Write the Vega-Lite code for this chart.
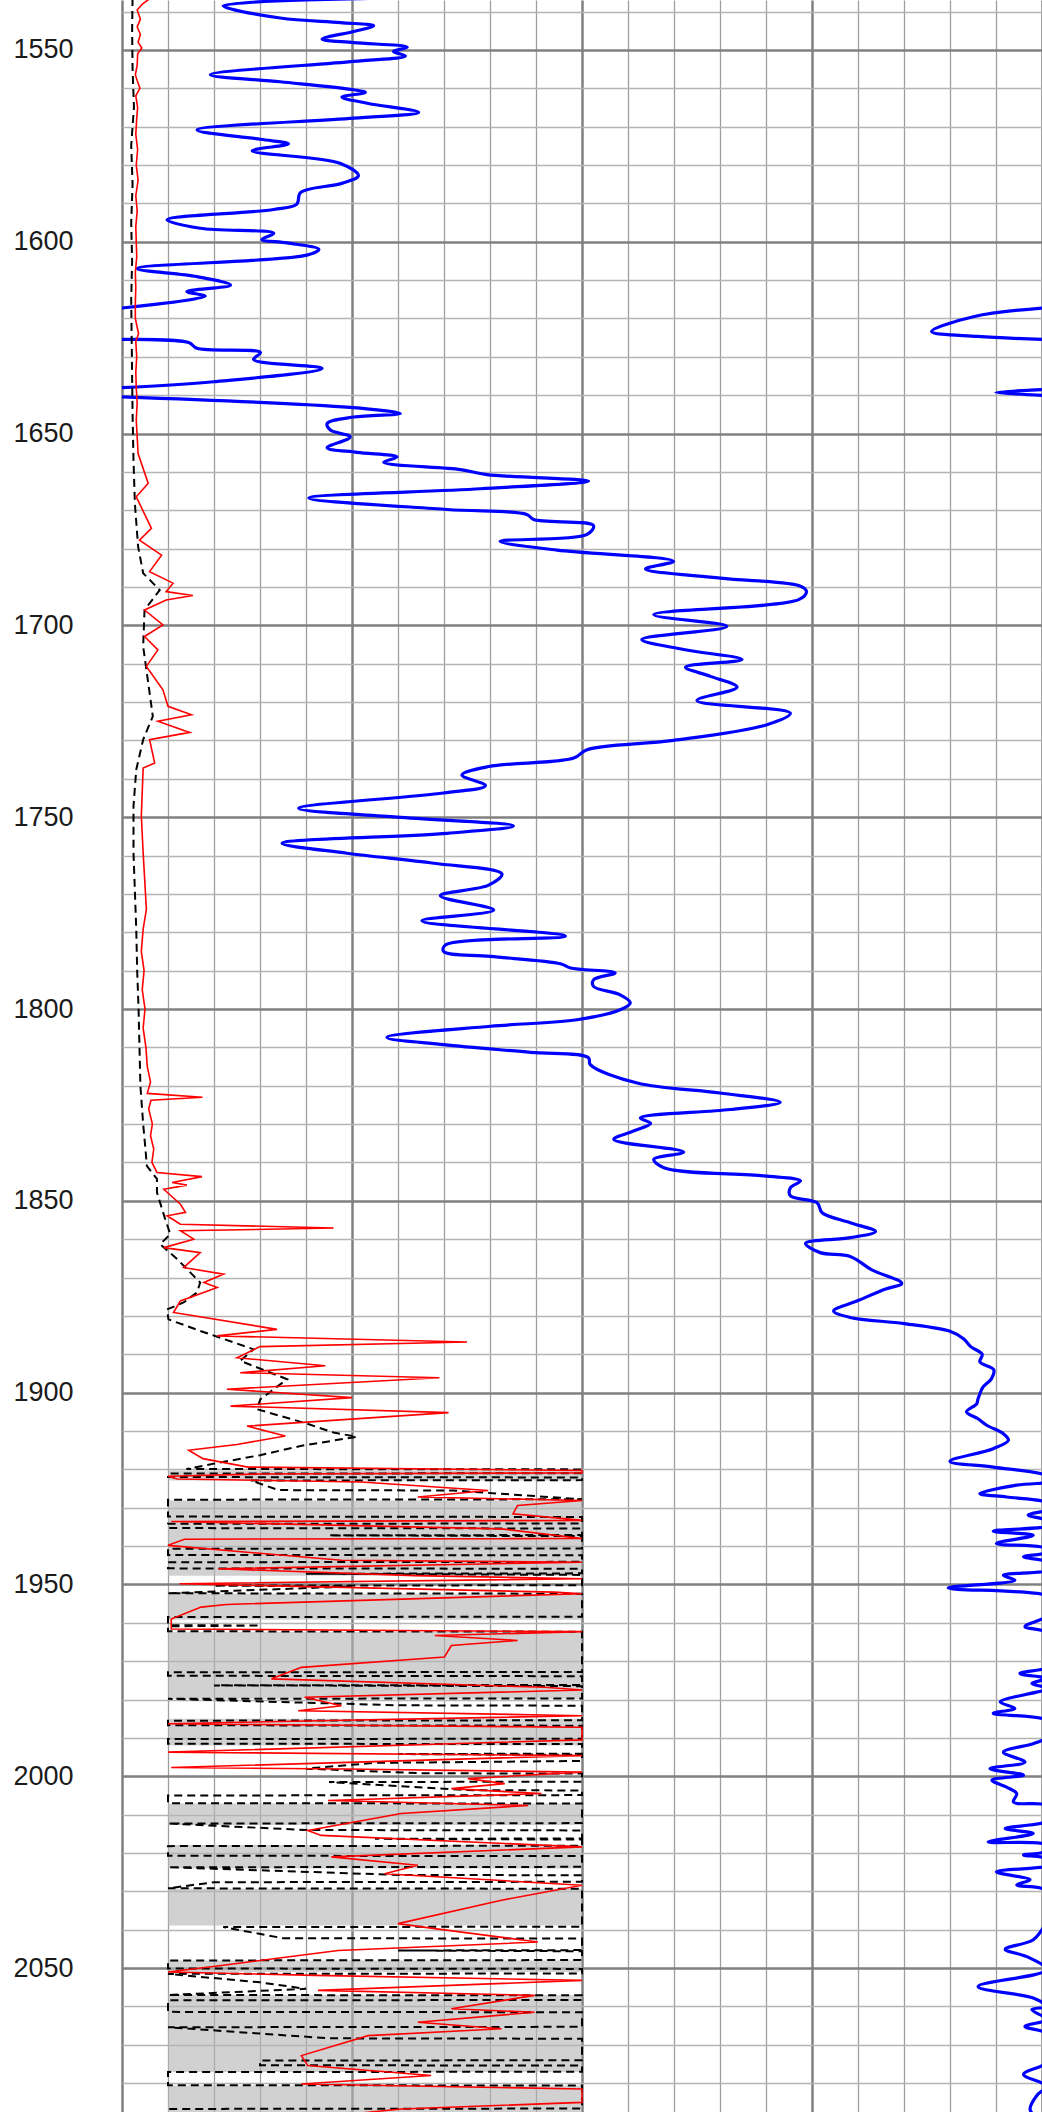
{
"$schema": "https://vega.github.io/schema/vega-lite/v6.json",
"width": 920, "height": 2112,
"autosize": {"type": "none"},
"padding": {"left": 122, "top": 0, "right": 0, "bottom": 0},
"background": "white",
"config": {"view": {"stroke": null}},
"datasets": {
"bands": [{"d":1920.3,"d2":1922.9},{"d":1928.1,"d2":1947.7},{"d":1952.4,"d2":1959.2},{"d":1962.4,"d2":1979.8},{"d":1985,"d2":1992},{"d":2007.1,"d2":2012.7},{"d":2017.9,"d2":2024},{"d":2029.3,"d2":2038.9},{"d":2048,"d2":2051},{"d":2057.1,"d2":2077.1},{"d":2080.6,"d2":2087.5}],
"blue": [
{"s":1,"d":1536.5,"v":58},{"s":1,"d":1538.5,"v":22},{"s":1,"d":1541.7,"v":34.4},{"s":1,"d":1542.9,"v":47.5},{"s":1,"d":1543.7,"v":54.7},{"s":1,"d":1545.2,"v":50.4},{"s":1,"d":1547.2,"v":43.5},{"s":1,"d":1548.1,"v":50.4},{"s":1,"d":1549.3,"v":62},{"s":1,"d":1550.4,"v":59},{"s":1,"d":1551.6,"v":61.6},{"s":1,"d":1553,"v":50.4},{"s":1,"d":1556.5,"v":19.2},{"s":1,"d":1558.3,"v":34.4},{"s":1,"d":1560.4,"v":50.4},{"s":1,"d":1561.1,"v":52.9},{"s":1,"d":1562.3,"v":47.8},{"s":1,"d":1563.9,"v":53.3},{"s":1,"d":1566.3,"v":64.5},{"s":1,"d":1567.8,"v":50.4},{"s":1,"d":1570.9,"v":16.3},{"s":1,"d":1573.3,"v":30.1},{"s":1,"d":1574.5,"v":36.2},{"s":1,"d":1576.3,"v":28.3},{"s":1,"d":1579.6,"v":47.5},{"s":1,"d":1582.8,"v":51.4},{"s":1,"d":1584.8,"v":47.8},{"s":1,"d":1587.2,"v":38.8},{"s":1,"d":1590.2,"v":38},{"s":1,"d":1591.6,"v":33},{"s":1,"d":1594.3,"v":9.8},{"s":1,"d":1596.5,"v":17},{"s":1,"d":1597.8,"v":33},{"s":1,"d":1599.4,"v":30.4},{"s":1,"d":1600.3,"v":35.9},{"s":1,"d":1602,"v":42.8},{"s":1,"d":1603.5,"v":40.2},{"s":1,"d":1607,"v":3.3},{"s":1,"d":1609.1,"v":16.3},{"s":1,"d":1611.3,"v":23.6},{"s":1,"d":1613,"v":14.1},{"s":1,"d":1614.2,"v":18.1},{"s":1,"d":1617.4,"v":-1},
{"s":2,"d":1617.2,"v":201},{"s":2,"d":1619.5,"v":185.3},{"s":2,"d":1623.4,"v":176},{"s":2,"d":1624.7,"v":186},{"s":2,"d":1625.5,"v":201},
{"s":3,"d":1625.5,"v":-1},{"s":3,"d":1626.3,"v":14.5},{"s":3,"d":1627.8,"v":16.3},{"s":3,"d":1628.9,"v":30.1},{"s":3,"d":1630.7,"v":28.6},{"s":3,"d":1633,"v":43.5},{"s":3,"d":1636.5,"v":19.9},{"s":3,"d":1638.1,"v":-1},
{"s":4,"d":1638.5,"v":201},{"s":4,"d":1639.3,"v":190},{"s":4,"d":1640.1,"v":201},
{"s":5,"d":1640.4,"v":-1},{"s":5,"d":1643.2,"v":49.6},{"s":5,"d":1644.8,"v":60.5},{"s":5,"d":1645.7,"v":50.4},{"s":5,"d":1647.4,"v":44.6},{"s":5,"d":1649.1,"v":45.3},{"s":5,"d":1650.9,"v":49.6},{"s":5,"d":1653.7,"v":44.6},{"s":5,"d":1654.9,"v":51.1},{"s":5,"d":1656.1,"v":59.8},{"s":5,"d":1657.5,"v":56.9},{"s":5,"d":1659.4,"v":73.6},{"s":5,"d":1660.7,"v":79.3},{"s":5,"d":1662.4,"v":101.4},{"s":5,"d":1664.4,"v":77.9},{"s":5,"d":1666.8,"v":40.6},{"s":5,"d":1669.8,"v":70.7},{"s":5,"d":1671.1,"v":88},{"s":5,"d":1672.4,"v":89.5},{"s":5,"d":1674,"v":102.5},{"s":5,"d":1676.3,"v":101.1},{"s":5,"d":1678.1,"v":82.2},{"s":5,"d":1680.4,"v":94.6},{"s":5,"d":1683.3,"v":119.9},{"s":5,"d":1685.3,"v":113.8},{"s":5,"d":1687.7,"v":130.1},{"s":5,"d":1689.8,"v":147.5},{"s":5,"d":1691.2,"v":148.8},{"s":5,"d":1693.3,"v":147.1},{"s":5,"d":1697.2,"v":115.6},{"s":5,"d":1700.3,"v":131.5},{"s":5,"d":1703.7,"v":113},{"s":5,"d":1706.3,"v":122.1},{"s":5,"d":1708.9,"v":134.8},{"s":5,"d":1710.9,"v":122.5},{"s":5,"d":1713.3,"v":127.9},{"s":5,"d":1716.1,"v":133.7},{"s":5,"d":1719.6,"v":125},{"s":5,"d":1722.9,"v":145.3},{"s":5,"d":1725.9,"v":140.2},{"s":5,"d":1730,"v":119.9},{"s":5,"d":1732.4,"v":101.1},{"s":5,"d":1734.6,"v":98.2},{"s":5,"d":1736.8,"v":79.7},{"s":5,"d":1739,"v":73.9},{"s":5,"d":1741.8,"v":79},{"s":5,"d":1743.7,"v":69.9},{"s":5,"d":1747.7,"v":38.4},{"s":5,"d":1750,"v":59.8},{"s":5,"d":1752.3,"v":85.1},{"s":5,"d":1754.2,"v":70.7},{"s":5,"d":1756.8,"v":34.8},{"s":5,"d":1759.4,"v":48.9},{"s":5,"d":1762,"v":67.8},{"s":5,"d":1764.8,"v":82.6},{"s":5,"d":1767.7,"v":79.7},{"s":5,"d":1770.5,"v":69.2},{"s":5,"d":1774.2,"v":80.8},{"s":5,"d":1777,"v":65.2},{"s":5,"d":1781,"v":96.4},{"s":5,"d":1783.3,"v":70.3},{"s":5,"d":1785,"v":69.9},{"s":5,"d":1786.3,"v":80.1},{"s":5,"d":1788.2,"v":95.3},{"s":5,"d":1789.3,"v":97.5},{"s":5,"d":1790.6,"v":107.2},{"s":5,"d":1792.4,"v":102.5},{"s":5,"d":1794.1,"v":102.5},{"s":5,"d":1796.3,"v":108.3},{"s":5,"d":1798.4,"v":110.5},{"s":5,"d":1800.2,"v":108.3},{"s":5,"d":1802.8,"v":98.9},{"s":5,"d":1804.5,"v":80.1},{"s":5,"d":1807.4,"v":57.6},{"s":5,"d":1809.3,"v":69.9},{"s":5,"d":1811.3,"v":88.8},{"s":5,"d":1812.7,"v":101.4},{"s":5,"d":1814.5,"v":101.8},{"s":5,"d":1819.3,"v":112},{"s":5,"d":1821.9,"v":130},{"s":5,"d":1824.3,"v":143.1},{"s":5,"d":1826.2,"v":132.2},{"s":5,"d":1828.4,"v":112.7},{"s":5,"d":1829.8,"v":114.9},{"s":5,"d":1831.8,"v":111.2},{"s":5,"d":1834,"v":106.9},{"s":5,"d":1837.3,"v":122.1},{"s":5,"d":1839.2,"v":115.6},{"s":5,"d":1841.4,"v":117.8},{"s":5,"d":1843.5,"v":139.5},{"s":5,"d":1844.8,"v":147.5},{"s":5,"d":1846.6,"v":145.3},{"s":5,"d":1848.7,"v":145.3},{"s":5,"d":1850.5,"v":151.1},{"s":5,"d":1853.1,"v":152.2},{"s":5,"d":1855.7,"v":158.3},{"s":5,"d":1858,"v":163.8},{"s":5,"d":1859.6,"v":158.3},{"s":5,"d":1861.1,"v":148.6},{"s":5,"d":1863.5,"v":151.8},{"s":5,"d":1864.5,"v":158.3},{"s":5,"d":1868,"v":163},{"s":5,"d":1871.5,"v":169.5},{"s":5,"d":1873,"v":166},{"s":5,"d":1876,"v":160},{"s":5,"d":1878.7,"v":154.7},{"s":5,"d":1880.4,"v":158.3},{"s":5,"d":1882,"v":170},{"s":5,"d":1884,"v":180},{"s":5,"d":1886,"v":183},{"s":5,"d":1888,"v":184.5},{"s":5,"d":1890,"v":187},{"s":5,"d":1892,"v":186.5},{"s":5,"d":1894,"v":189.5},{"s":5,"d":1896.4,"v":189},{"s":5,"d":1898.5,"v":187.2},{"s":5,"d":1901.6,"v":186.1},{"s":5,"d":1902.9,"v":185.8},{"s":5,"d":1905,"v":183.6},{"s":5,"d":1906.8,"v":186.1},{"s":5,"d":1908.5,"v":188},{"s":5,"d":1910.7,"v":191.6},{"s":5,"d":1912.4,"v":192.7},{"s":5,"d":1914.6,"v":189.4},{"s":5,"d":1917.9,"v":180},{"s":5,"d":1919.4,"v":189.4},{"s":5,"d":1921.5,"v":201},{"s":5,"d":1923,"v":203},{"s":5,"d":1924.1,"v":194.5},{"s":5,"d":1926.3,"v":186.5},{"s":5,"d":1927.2,"v":192.3},{"s":5,"d":1928.5,"v":201},{"s":5,"d":1930,"v":203},{"s":5,"d":1931.9,"v":197},{"s":5,"d":1933.2,"v":201},{"s":5,"d":1934.5,"v":202},{"s":5,"d":1936.1,"v":189.4},{"s":5,"d":1937.2,"v":198.1},{"s":5,"d":1939.3,"v":190.1},{"s":5,"d":1940.6,"v":201},{"s":5,"d":1941.6,"v":201},{"s":5,"d":1942.8,"v":196},{"s":5,"d":1944.1,"v":201},{"s":5,"d":1946,"v":202},{"s":5,"d":1947.6,"v":191.6},{"s":5,"d":1948.9,"v":194.1},{"s":5,"d":1950.9,"v":179.6},{"s":5,"d":1952.8,"v":201},{"s":5,"d":1955,"v":204},{"s":5,"d":1958.4,"v":201},{"s":5,"d":1961,"v":196.3},{"s":5,"d":1962.3,"v":201},{"s":5,"d":1966,"v":205},{"s":5,"d":1971,"v":203},{"s":5,"d":1973.2,"v":195.2},{"s":5,"d":1974.5,"v":201},{"s":5,"d":1975.8,"v":197.8},{"s":5,"d":1977.1,"v":201},{"s":5,"d":1980.6,"v":190.9},{"s":5,"d":1982.3,"v":194.1},{"s":5,"d":1983.6,"v":189.4},{"s":5,"d":1985.3,"v":201},{"s":5,"d":1988,"v":203},{"s":5,"d":1990.1,"v":201},{"s":5,"d":1991.5,"v":198.1},{"s":5,"d":1993.7,"v":191.6},{"s":5,"d":1996.3,"v":196.3},{"s":5,"d":1998,"v":188.7},{"s":5,"d":1999.7,"v":196},{"s":5,"d":2001,"v":189.1},{"s":5,"d":2002.8,"v":192.3},{"s":5,"d":2004.5,"v":194.5},{"s":5,"d":2006.7,"v":193.8},{"s":5,"d":2007.5,"v":201},{"s":5,"d":2010,"v":203},{"s":5,"d":2011.9,"v":201},{"s":5,"d":2013.6,"v":192},{"s":5,"d":2014.9,"v":198.1},{"s":5,"d":2017.1,"v":188.3},{"s":5,"d":2017.9,"v":201},{"s":5,"d":2019.5,"v":201},{"s":5,"d":2020.5,"v":196},{"s":5,"d":2021.4,"v":201},{"s":5,"d":2023,"v":202},{"s":5,"d":2024.9,"v":190.1},{"s":5,"d":2027,"v":197.4},{"s":5,"d":2028.3,"v":194.5},{"s":5,"d":2029.6,"v":201},{"s":5,"d":2034,"v":204},{"s":5,"d":2038.3,"v":201},{"s":5,"d":2042.6,"v":198.1},{"s":5,"d":2045.1,"v":192},{"s":5,"d":2047,"v":196.7},{"s":5,"d":2050.4,"v":201},{"s":5,"d":2054.8,"v":186.1},{"s":5,"d":2057.8,"v":198.1},{"s":5,"d":2060,"v":201},{"s":5,"d":2060.8,"v":197.8},{"s":5,"d":2063.4,"v":201},{"s":5,"d":2065.2,"v":196.3},{"s":5,"d":2066.9,"v":201},{"s":5,"d":2070,"v":203},{"s":5,"d":2074.7,"v":201},{"s":5,"d":2077.7,"v":196},{"s":5,"d":2080.8,"v":201},{"s":5,"d":2083,"v":199},{"s":5,"d":2086.8,"v":197.4},{"s":5,"d":2088,"v":198}
],
"red": [
{"d":1536.5,"v":6.2},{"d":1538,"v":4.5},{"d":1539.6,"v":3.3},{"d":1542,"v":4.0},{"d":1544,"v":3.3},{"d":1546,"v":4.0},{"d":1548,"v":3.5},{"d":1549.5,"v":4.3},{"d":1551,"v":3.4},{"d":1554,"v":3.3},{"d":1556.5,"v":2.9},{"d":1558,"v":3.3},{"d":1560,"v":3.9},{"d":1562,"v":3.0},{"d":1565,"v":3.4},{"d":1568,"v":3.2},{"d":1572,"v":3.0},{"d":1576,"v":3.4},{"d":1580,"v":3.1},{"d":1584,"v":3.5},{"d":1588,"v":3.0},{"d":1592,"v":3.3},{"d":1596,"v":3.0},{"d":1600,"v":3.1},{"d":1604,"v":3.2},{"d":1608,"v":2.9},{"d":1612,"v":3.0},{"d":1616,"v":2.9},{"d":1620,"v":2.9},{"d":1624,"v":3.6},{"d":1626,"v":3.0},{"d":1630,"v":3.2},{"d":1634,"v":3.0},{"d":1638,"v":3.1},{"d":1642,"v":3.3},{"d":1646.5,"v":3.1},{"d":1655.2,"v":3.5},{"d":1663,"v":5.7},{"d":1666.5,"v":3.1},{"d":1674.7,"v":6.4},{"d":1677.8,"v":3.8},{"d":1681.7,"v":8.6},{"d":1686,"v":6},{"d":1689,"v":11.1},{"d":1691.2,"v":9.6},{"d":1692.2,"v":15.4},{"d":1693.4,"v":9.6},{"d":1696,"v":4.9},{"d":1699.9,"v":8.9},{"d":1702.9,"v":4.9},{"d":1706.4,"v":7.8},{"d":1710.7,"v":5.3},{"d":1716.8,"v":8.9},{"d":1721.1,"v":10},{"d":1723.3,"v":15.1},{"d":1725,"v":7.8},{"d":1727.9,"v":14.7},{"d":1729.8,"v":6},{"d":1735.9,"v":7.1},{"d":1737.2,"v":4.6},{"d":1749.7,"v":4.2},{"d":1759.3,"v":4.6},{"d":1774,"v":5.3},{"d":1779.2,"v":4.6},{"d":1785,"v":4.2},{"d":1790,"v":4.8},{"d":1795,"v":4.4},{"d":1800,"v":5.0},{"d":1805,"v":4.6},{"d":1810,"v":5.2},{"d":1815,"v":5.5},{"d":1819,"v":6.2},{"d":1822,"v":5.5},{"d":1823,"v":17.5},{"d":1823.8,"v":6.3},{"d":1826,"v":5.8},{"d":1830,"v":6.6},{"d":1833,"v":6.2},{"d":1836.5,"v":6.9},{"d":1840,"v":6.5},{"d":1842.6,"v":7.6},{"d":1843.7,"v":17.4},{"d":1845.2,"v":10.9},{"d":1845.9,"v":14.1},{"d":1847,"v":9.1},{"d":1850.9,"v":12.7},{"d":1853,"v":13.8},{"d":1853.9,"v":9.8},{"d":1856.1,"v":12.7},{"d":1857.1,"v":46},{"d":1857.8,"v":12.7},{"d":1860,"v":15.6},{"d":1862.2,"v":9.1},{"d":1863.5,"v":17},{"d":1867.4,"v":13.4},{"d":1869.1,"v":22.1},{"d":1871.3,"v":17.8},{"d":1872.6,"v":20.7},{"d":1876.1,"v":12.7},{"d":1879.1,"v":11.2},{"d":1883.5,"v":33.7},{"d":1885.2,"v":20.7},{"d":1886.8,"v":75},{"d":1888,"v":30},{"d":1890.9,"v":25},{"d":1893,"v":44.2},{"d":1894.8,"v":25.7},{"d":1896.1,"v":69},{"d":1899.1,"v":22.8},{"d":1901.3,"v":50},{"d":1903.5,"v":23.6},{"d":1905.2,"v":71},{"d":1908.7,"v":27.2},{"d":1911.3,"v":35.5},{"d":1913.5,"v":25},{"d":1915,"v":14.5},{"d":1917.2,"v":17.6},{"d":1919.4,"v":27.4},{"d":1920.3,"v":100},{"d":1920.9,"v":100},{"d":1921.2,"v":30},{"d":1921.8,"v":10},{"d":1922.5,"v":12},{"d":1923.3,"v":52},{"d":1925.5,"v":79.6},{"d":1927.2,"v":64.3},{"d":1928.1,"v":100},{"d":1929.4,"v":86},{"d":1931.6,"v":85},{"d":1933.3,"v":100},{"d":1933.6,"v":10.7},{"d":1935.5,"v":82.5},{"d":1938,"v":100},{"d":1938.2,"v":13.6},{"d":1939.8,"v":10},{"d":1943.7,"v":47.7},{"d":1944.2,"v":100},{"d":1945.9,"v":20.9},{"d":1947.7,"v":63.6},{"d":1948.5,"v":100},{"d":1949.8,"v":12.5},{"d":1952,"v":94},{"d":1952.4,"v":100},{"d":1955.2,"v":22.7},{"d":1955.9,"v":17.2},{"d":1959,"v":10.7},{"d":1961.6,"v":10.7},{"d":1962.3,"v":100},{"d":1963.3,"v":68},{"d":1964.6,"v":86},{"d":1965.9,"v":71.6},{"d":1968.9,"v":70.1},{"d":1971.6,"v":39},{"d":1974.6,"v":32.5},{"d":1976.8,"v":91.9},{"d":1977.5,"v":100},{"d":1979.4,"v":39.7},{"d":1981.6,"v":47.7},{"d":1982.9,"v":38.3},{"d":1984.2,"v":100},{"d":1986.3,"v":10},{"d":1987.2,"v":100},{"d":1990.5,"v":100},{"d":1993.7,"v":10},{"d":1994.6,"v":100},{"d":1997.7,"v":10.7},{"d":1998.1,"v":48.4},{"d":1998.9,"v":100},{"d":2000.6,"v":75.2},{"d":2001.9,"v":83.2},{"d":2003.2,"v":71.6},{"d":2004.5,"v":91.2},{"d":2006.3,"v":44.8},{"d":2007.6,"v":88.3},{"d":2009.7,"v":60.7},{"d":2014.1,"v":40.4},{"d":2015.4,"v":43.3},{"d":2018.4,"v":100},{"d":2021,"v":45.5},{"d":2023.2,"v":64.3},{"d":2025.4,"v":57.1},{"d":2028.4,"v":100},{"d":2032.3,"v":82.5},{"d":2038.4,"v":60},{"d":2039.7,"v":68},{"d":2043.2,"v":90.4},{"d":2045.4,"v":47},{"d":2049.3,"v":21.6},{"d":2051,"v":10},{"d":2051.9,"v":41.9},{"d":2053.2,"v":100},{"d":2055.8,"v":42.6},{"d":2057.1,"v":89.7},{"d":2060.6,"v":71.6},{"d":2061.5,"v":89.7},{"d":2064.1,"v":64.3},{"d":2065.8,"v":82.5},{"d":2067.6,"v":53.5},{"d":2072.8,"v":39},{"d":2075.4,"v":40.4},{"d":2078,"v":67.2},{"d":2080.2,"v":39},{"d":2081.5,"v":100},{"d":2085,"v":100},{"d":2086.7,"v":60.7},{"d":2088,"v":50}
],
"black": [
{"d":1536.5,"v":2.3},{"d":1545,"v":2.2},{"d":1555,"v":2.3},{"d":1565,"v":2.6},{"d":1575,"v":2.0},{"d":1585,"v":2.3},{"d":1595,"v":2.0},{"d":1605,"v":2.2},{"d":1615,"v":2.0},{"d":1625,"v":2.1},{"d":1635,"v":2.2},{"d":1645,"v":2.3},{"d":1657,"v":2.5},{"d":1668.2,"v":2.8},{"d":1679.5,"v":3.5},{"d":1686.4,"v":4.6},{"d":1690.8,"v":8.2},{"d":1696,"v":4.9},{"d":1705.5,"v":4.6},{"d":1715,"v":5.7},{"d":1723.7,"v":6.7},{"d":1729.8,"v":4.6},{"d":1737.6,"v":3.1},{"d":1747.1,"v":2.5},{"d":1759.3,"v":2.5},{"d":1779.2,"v":3.1},{"d":1790,"v":3.3},{"d":1800,"v":3.6},{"d":1810,"v":3.8},{"d":1820,"v":4.0},{"d":1830,"v":4.6},{"d":1836.5,"v":5.1},{"d":1840.9,"v":5.4},{"d":1844.3,"v":7.6},{"d":1847.8,"v":7.6},{"d":1854.8,"v":9.4},{"d":1858.7,"v":10.5},{"d":1861.3,"v":8.3},{"d":1865.2,"v":12},{"d":1871.3,"v":17},{"d":1873.9,"v":16.3},{"d":1876.5,"v":13.4},{"d":1878.3,"v":9.8},{"d":1880.9,"v":10.1},{"d":1883.9,"v":17},{"d":1888.7,"v":28.6},{"d":1891.7,"v":25.7},{"d":1896.5,"v":35.9},{"d":1901.7,"v":30.1},{"d":1904.3,"v":29.3},{"d":1908,"v":40},{"d":1910.4,"v":46},{"d":1911.5,"v":51},{"d":1913.9,"v":38.8},{"d":1916.3,"v":30},{"d":1918.5,"v":20},{"d":1919.9,"v":14},{"d":1920.0,"v":100},{"d":1921.0,"v":100},{"d":1921.1,"v":10},{"d":1922.0,"v":10},{"d":1922.1,"v":100},{"d":1922.8,"v":100},{"d":1922.9,"v":28},{"d":1925.4,"v":34},{"d":1925.5,"v":72},{"d":1927.8,"v":100},{"d":1927.9,"v":10},{"d":1932.3,"v":10},{"d":1932.4,"v":100},{"d":1934.1,"v":100},{"d":1934.2,"v":10},{"d":1935.3,"v":10},{"d":1935.4,"v":100},{"d":1937.1,"v":100},{"d":1937.2,"v":45},{"d":1937.4,"v":100},{"d":1940.6,"v":100},{"d":1940.7,"v":10},{"d":1942.3,"v":10},{"d":1942.4,"v":100},{"d":1944.1,"v":100},{"d":1944.2,"v":10},{"d":1945.8,"v":10},{"d":1945.9,"v":100},{"d":1947.1,"v":100},{"d":1947.2,"v":40},{"d":1947.5,"v":100},{"d":1950.2,"v":100},{"d":1950.3,"v":20},{"d":1950.5,"v":50},{"d":1952.3,"v":10},{"d":1952.4,"v":100},{"d":1958.4,"v":100},{"d":1958.5,"v":10},{"d":1960.6,"v":10},{"d":1960.7,"v":30},{"d":1960.9,"v":10},{"d":1962.2,"v":10},{"d":1962.3,"v":100},{"d":1972.8,"v":100},{"d":1972.9,"v":10},{"d":1973.8,"v":10},{"d":1973.9,"v":100},{"d":1976.2,"v":100},{"d":1976.3,"v":20},{"d":1976.5,"v":100},{"d":1979.7,"v":100},{"d":1979.8,"v":10},{"d":1981.5,"v":60},{"d":1981.6,"v":100},{"d":1985.4,"v":100},{"d":1985.5,"v":10},{"d":1986.7,"v":10},{"d":1986.8,"v":100},{"d":1990.2,"v":100},{"d":1990.3,"v":10},{"d":1991.5,"v":10},{"d":1991.6,"v":100},{"d":1994.1,"v":100},{"d":1994.2,"v":60},{"d":1994.4,"v":100},{"d":1996,"v":100},{"d":1996.5,"v":55},{"d":1998,"v":40},{"d":1999.2,"v":65},{"d":1999.3,"v":100},{"d":2001.4,"v":100},{"d":2001.5,"v":45},{"d":2003.6,"v":75},{"d":2003.7,"v":100},{"d":2004.9,"v":100},{"d":2005,"v":10},{"d":2007,"v":10},{"d":2007.1,"v":100},{"d":2012.2,"v":100},{"d":2012.3,"v":10},{"d":2014,"v":40},{"d":2014.1,"v":100},{"d":2016.2,"v":100},{"d":2016.3,"v":55},{"d":2016.5,"v":100},{"d":2018.1,"v":100},{"d":2018.2,"v":10},{"d":2020.7,"v":10},{"d":2020.8,"v":100},{"d":2023.6,"v":100},{"d":2023.7,"v":10},{"d":2025.7,"v":60},{"d":2025.8,"v":100},{"d":2027.5,"v":100},{"d":2027.6,"v":20},{"d":2029.2,"v":10},{"d":2029.3,"v":100},{"d":2039.2,"v":100},{"d":2039.3,"v":22},{"d":2042.2,"v":35},{"d":2042.3,"v":100},{"d":2045.3,"v":100},{"d":2045.4,"v":60},{"d":2045.6,"v":100},{"d":2047.9,"v":100},{"d":2048,"v":10},{"d":2050.1,"v":10},{"d":2050.2,"v":100},{"d":2051.4,"v":100},{"d":2051.5,"v":10},{"d":2053.7,"v":30},{"d":2055.4,"v":40},{"d":2057,"v":10},{"d":2057.1,"v":100},{"d":2058.3,"v":100},{"d":2058.4,"v":10},{"d":2061.4,"v":10},{"d":2061.5,"v":100},{"d":2065.3,"v":100},{"d":2065.4,"v":10},{"d":2068.3,"v":45},{"d":2068.4,"v":100},{"d":2074,"v":100},{"d":2074.1,"v":30},{"d":2075.3,"v":30},{"d":2075.4,"v":100},{"d":2077,"v":100},{"d":2077.1,"v":10},{"d":2080.5,"v":10},{"d":2080.6,"v":100},{"d":2086.6,"v":100},{"d":2086.7,"v":10},{"d":2088,"v":10}
]
},
"layer": [
{"data": {"name": "bands"}, "mark": {"type": "rect", "fill": "#b4b4b4", "opacity": 0.62},
 "encoding": {
  "x": {"datum": 10, "type": "quantitative", "scale": {"domain": [0, 200], "nice": false, "zero": false},
   "axis": {"orient": "top", "values": [0,10,20,30,40,50,60,70,80,90,100,110,120,130,140,150,160,170,180,190,200], "labels": false, "ticks": false, "domain": false, "title": null, "grid": true,
    "gridColor": {"condition": {"test": "datum.value % 50 === 0", "value": "#808080"}, "value": "#9e9e9e"},
    "gridWidth": {"condition": {"test": "datum.value % 50 === 0", "value": 2.5}, "value": 1.3}}},
  "x2": {"datum": 100},
  "y": {"field": "d", "type": "quantitative", "scale": {"domain": [1537, 2087.5], "reverse": true, "nice": false, "zero": false},
   "axis": {"values": [1540,1550,1560,1570,1580,1590,1600,1610,1620,1630,1640,1650,1660,1670,1680,1690,1700,1710,1720,1730,1740,1750,1760,1770,1780,1790,1800,1810,1820,1830,1840,1850,1860,1870,1880,1890,1900,1910,1920,1930,1940,1950,1960,1970,1980,1990,2000,2010,2020,2030,2040,2050,2060,2070,2080],
    "format": "d", "labelExpr": "datum.value % 50 === 0 ? datum.label : ''", "labelOverlap": false, "labelBound": false, "ticks": false, "domain": false, "title": null,
    "labelFont": "Liberation Sans", "labelFontSize": 27, "labelColor": "#1a1a1a", "labelPadding": 49, "grid": true,
    "gridColor": {"condition": {"test": "datum.value % 50 === 0", "value": "#808080"}, "value": "#b4b4b4"},
    "gridWidth": {"condition": {"test": "datum.value % 50 === 0", "value": 2.5}, "value": 1.6}}},
  "y2": {"field": "d2"}}},
{"data": {"name": "blue"}, "mark": {"type": "line", "color": "#0000ff", "strokeWidth": 3.2, "clip": true, "interpolate": "catmull-rom"},
 "encoding": {
  "x": {"field": "v", "type": "quantitative", "scale": {"domain": [0, 200], "nice": false, "zero": false},
   "axis": {"orient": "top", "values": [0,10,20,30,40,50,60,70,80,90,100,110,120,130,140,150,160,170,180,190,200], "labels": false, "ticks": false, "domain": false, "title": null, "grid": true,
    "gridColor": {"condition": {"test": "datum.value % 50 === 0", "value": "#808080"}, "value": "#9e9e9e"},
    "gridWidth": {"condition": {"test": "datum.value % 50 === 0", "value": 2.5}, "value": 1.3}}},
  "y": {"field": "d", "type": "quantitative", "scale": {"domain": [1537, 2087.5], "reverse": true, "nice": false, "zero": false},
   "axis": {"values": [1540,1550,1560,1570,1580,1590,1600,1610,1620,1630,1640,1650,1660,1670,1680,1690,1700,1710,1720,1730,1740,1750,1760,1770,1780,1790,1800,1810,1820,1830,1840,1850,1860,1870,1880,1890,1900,1910,1920,1930,1940,1950,1960,1970,1980,1990,2000,2010,2020,2030,2040,2050,2060,2070,2080],
    "format": "d", "labelExpr": "datum.value % 50 === 0 ? datum.label : ''", "labelOverlap": false, "labelBound": false, "ticks": false, "domain": false, "title": null,
    "labelFont": "Liberation Sans", "labelFontSize": 27, "labelColor": "#1a1a1a", "labelPadding": 49, "grid": true,
    "gridColor": {"condition": {"test": "datum.value % 50 === 0", "value": "#808080"}, "value": "#b4b4b4"},
    "gridWidth": {"condition": {"test": "datum.value % 50 === 0", "value": 2.5}, "value": 1.6}}},
  "detail": {"field": "s"}, "order": {"field": "d", "type": "quantitative"}}},
{"data": {"name": "black"}, "mark": {"type": "line", "color": "#000000", "strokeWidth": 2, "strokeDash": [8, 5], "clip": true},
 "encoding": {
  "x": {"field": "v", "type": "quantitative", "scale": {"domain": [0, 200], "nice": false, "zero": false},
   "axis": {"orient": "top", "values": [0,10,20,30,40,50,60,70,80,90,100,110,120,130,140,150,160,170,180,190,200], "labels": false, "ticks": false, "domain": false, "title": null, "grid": true,
    "gridColor": {"condition": {"test": "datum.value % 50 === 0", "value": "#808080"}, "value": "#9e9e9e"},
    "gridWidth": {"condition": {"test": "datum.value % 50 === 0", "value": 2.5}, "value": 1.3}}},
  "y": {"field": "d", "type": "quantitative", "scale": {"domain": [1537, 2087.5], "reverse": true, "nice": false, "zero": false},
   "axis": {"values": [1540,1550,1560,1570,1580,1590,1600,1610,1620,1630,1640,1650,1660,1670,1680,1690,1700,1710,1720,1730,1740,1750,1760,1770,1780,1790,1800,1810,1820,1830,1840,1850,1860,1870,1880,1890,1900,1910,1920,1930,1940,1950,1960,1970,1980,1990,2000,2010,2020,2030,2040,2050,2060,2070,2080],
    "format": "d", "labelExpr": "datum.value % 50 === 0 ? datum.label : ''", "labelOverlap": false, "labelBound": false, "ticks": false, "domain": false, "title": null,
    "labelFont": "Liberation Sans", "labelFontSize": 27, "labelColor": "#1a1a1a", "labelPadding": 49, "grid": true,
    "gridColor": {"condition": {"test": "datum.value % 50 === 0", "value": "#808080"}, "value": "#b4b4b4"},
    "gridWidth": {"condition": {"test": "datum.value % 50 === 0", "value": 2.5}, "value": 1.6}}},
  "order": {"field": "d", "type": "quantitative"}}},
{"data": {"name": "red"}, "mark": {"type": "line", "color": "#ff0000", "strokeWidth": 1.6, "clip": true},
 "encoding": {
  "x": {"field": "v", "type": "quantitative", "scale": {"domain": [0, 200], "nice": false, "zero": false},
   "axis": {"orient": "top", "values": [0,10,20,30,40,50,60,70,80,90,100,110,120,130,140,150,160,170,180,190,200], "labels": false, "ticks": false, "domain": false, "title": null, "grid": true,
    "gridColor": {"condition": {"test": "datum.value % 50 === 0", "value": "#808080"}, "value": "#9e9e9e"},
    "gridWidth": {"condition": {"test": "datum.value % 50 === 0", "value": 2.5}, "value": 1.3}}},
  "y": {"field": "d", "type": "quantitative", "scale": {"domain": [1537, 2087.5], "reverse": true, "nice": false, "zero": false},
   "axis": {"values": [1540,1550,1560,1570,1580,1590,1600,1610,1620,1630,1640,1650,1660,1670,1680,1690,1700,1710,1720,1730,1740,1750,1760,1770,1780,1790,1800,1810,1820,1830,1840,1850,1860,1870,1880,1890,1900,1910,1920,1930,1940,1950,1960,1970,1980,1990,2000,2010,2020,2030,2040,2050,2060,2070,2080],
    "format": "d", "labelExpr": "datum.value % 50 === 0 ? datum.label : ''", "labelOverlap": false, "labelBound": false, "ticks": false, "domain": false, "title": null,
    "labelFont": "Liberation Sans", "labelFontSize": 27, "labelColor": "#1a1a1a", "labelPadding": 49, "grid": true,
    "gridColor": {"condition": {"test": "datum.value % 50 === 0", "value": "#808080"}, "value": "#b4b4b4"},
    "gridWidth": {"condition": {"test": "datum.value % 50 === 0", "value": 2.5}, "value": 1.6}}},
  "order": {"field": "d", "type": "quantitative"}}}
]
}
